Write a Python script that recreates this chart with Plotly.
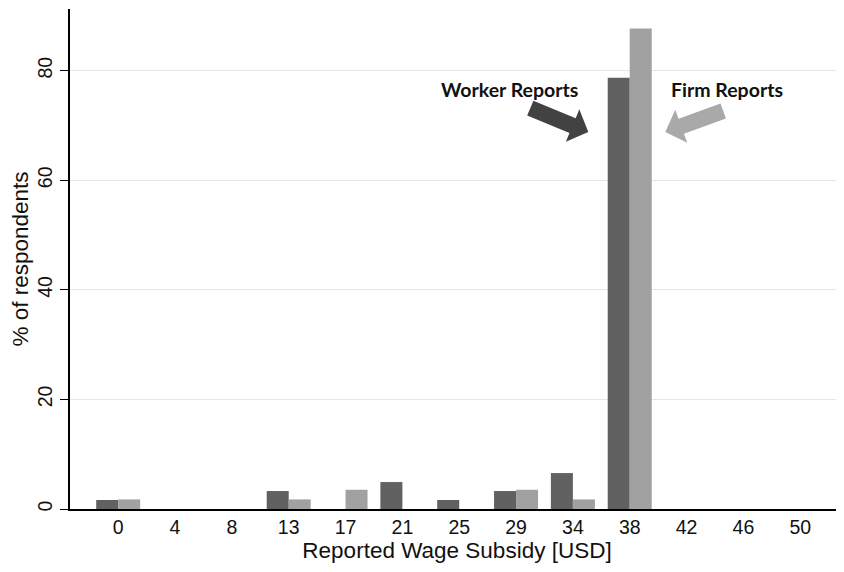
import plotly.graph_objects as go

categories = ["0", "4", "8", "13", "17", "21", "25", "29", "34", "38", "42", "46", "50"]
worker_pct = [1.64, 0, 0, 3.28, 0, 4.92, 1.64, 3.28, 6.56, 78.69, 0, 0, 0]
firm_pct = [1.75, 0, 0, 1.75, 3.51, 0, 0, 3.51, 1.75, 87.72, 0, 0, 0]
y_ticks = [0, 20, 40, 60, 80]

fig = go.Figure()
fig.add_trace(go.Bar(x=categories, y=worker_pct, name="Worker Reports",
                     marker=dict(color="#616161", line=dict(width=0))))
fig.add_trace(go.Bar(x=categories, y=firm_pct, name="Firm Reports",
                     marker=dict(color="#a1a1a1", line=dict(width=0))))

font_main = "Liberation Sans, Arial, sans-serif"
label_font = dict(family="Lato, Open Sans, sans-serif", size=19.5, color="#111111")

# block-arrow outlines in pixels, relative to the arrow tip (y upward)
worker_arrow = "M-54.9,31.4 L-12.6,13.9 L-9.0,22.7 L0,0 L-22.4,-9.7 L-18.8,-0.9 L-61.1,16.6 Z"
firm_arrow = "M55.3,28.5 L13.3,13.3 L10.0,22.3 L0,0 L22.0,-10.7 L18.7,-1.7 L60.7,13.5 Z"

# page body adds an 8px offset, so margins are reduced accordingly
fig.update_layout(
    width=844, height=572,
    margin=dict(l=61.5, r=8, t=1, b=71),
    paper_bgcolor="white", plot_bgcolor="white",
    barmode="group", bargap=0.226, bargroupgap=0,
    showlegend=False,
    font=dict(family=font_main, color="#111111"),
    xaxis=dict(
        type="category", range=[-0.848, 12.77], automargin=False,
        showline=True, linecolor="#000000", linewidth=1.5,
        ticks="", showgrid=False,
        tickfont=dict(size=19.5, family=font_main, color="#111111"),
        title=dict(text="Reported Wage Subsidy [USD]", font=dict(size=22.5, family=font_main), standoff=4),
    ),
    yaxis=dict(
        range=[0, 91.26], tickvals=y_ticks, ticktext=[str(v) for v in y_ticks],
        automargin=False,
        showline=True, linecolor="#000000", linewidth=1.5,
        ticks="outside", ticklen=8, tickcolor="#000000", tickwidth=1,
        tickangle=-90,
        showgrid=True, gridcolor="#e6e6e6", gridwidth=1.2,
        zeroline=False,
        tickfont=dict(size=19.5, family=font_main, color="#111111"),
        title=dict(text="% of respondents", font=dict(size=22.5, family=font_main), standoff=6),
    ),
    shapes=[
        dict(type="path", xref="x", yref="y", xsizemode="pixel", ysizemode="pixel",
             xanchor=8.271, yanchor=68.8, path=worker_arrow,
             fillcolor="#424242", line=dict(width=0), layer="above"),
        dict(type="path", xref="x", yref="y", xsizemode="pixel", ysizemode="pixel",
             xanchor=9.625, yanchor=68.8, path=firm_arrow,
             fillcolor="#a9a9a9", line=dict(width=0), layer="above"),
    ],
    annotations=[
        dict(text="(a)", xref="paper", yref="paper", x=0.463, y=1, yanchor="bottom",
             yshift=6, showarrow=False, font=dict(size=22, family=font_main)),
        dict(text="<b>Worker Reports</b>", x=6.88, y=76.5, xref="x", yref="y",
             showarrow=False, font=label_font),
        dict(text="<b>Firm Reports</b>", x=10.72, y=76.5, xref="x", yref="y",
             showarrow=False, font=label_font),
    ],
)

fig.write_html("out.html")
